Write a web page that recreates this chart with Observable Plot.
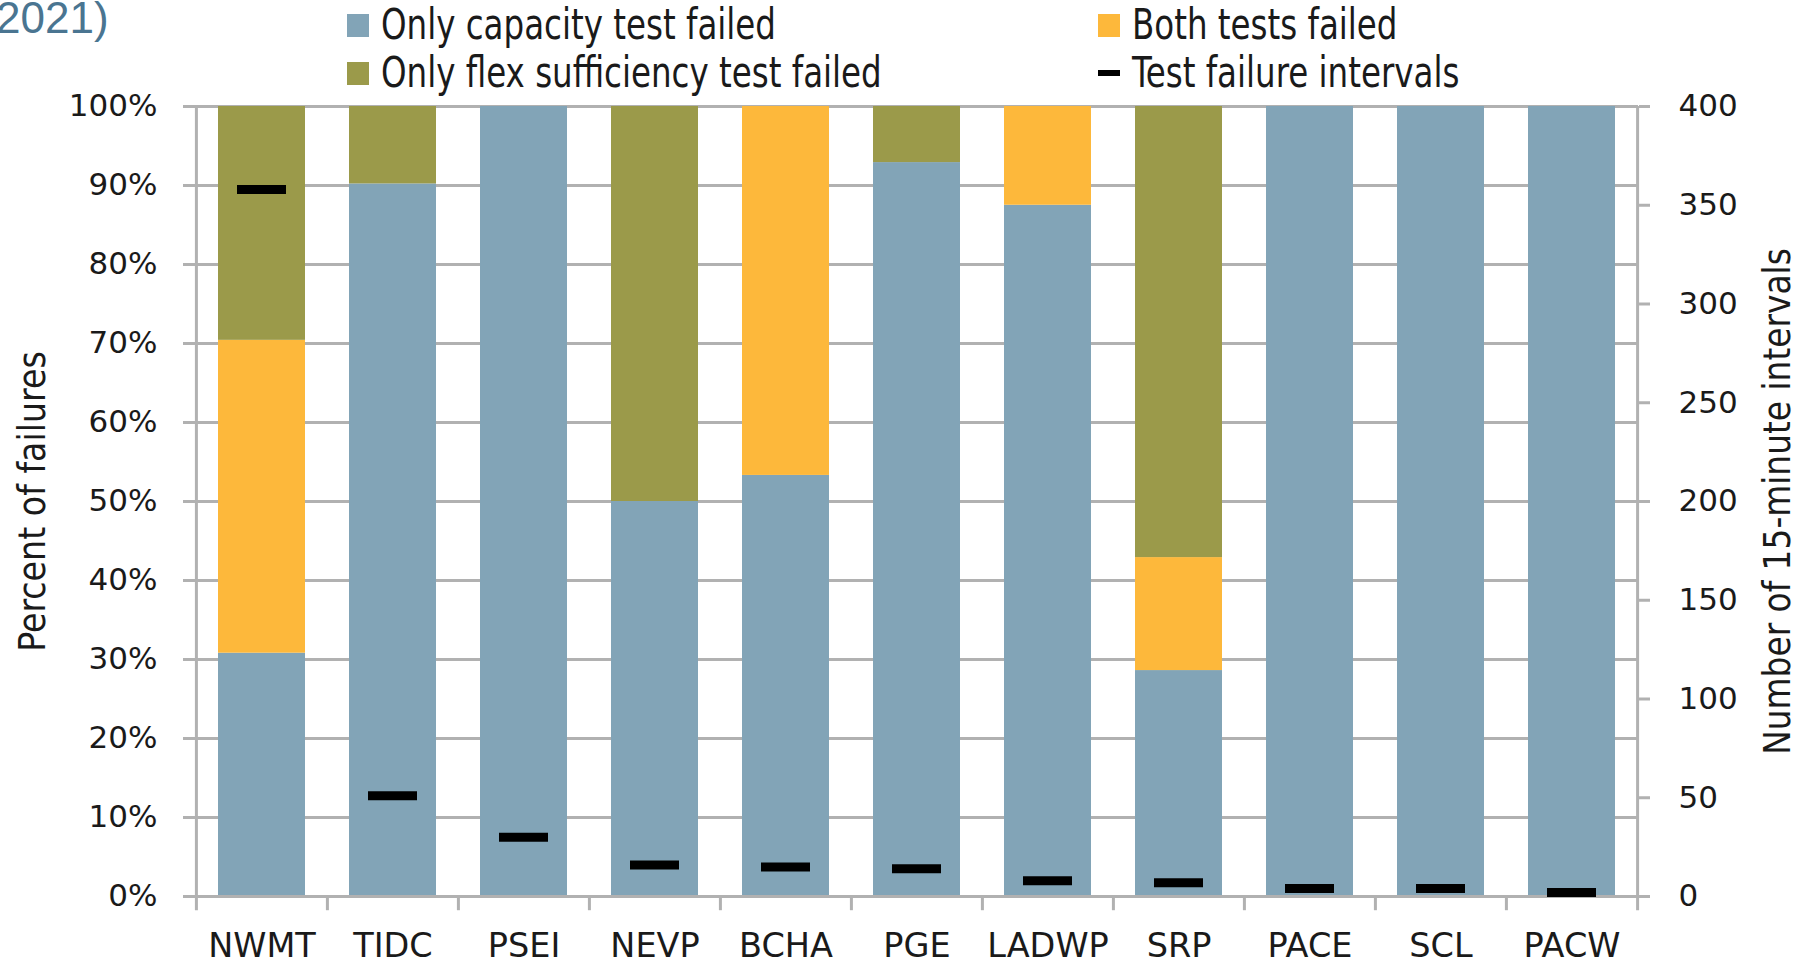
<!DOCTYPE html>
<html>
<head>
<meta charset="utf-8">
<script src="https://cdn.jsdelivr.net/npm/d3@7"></script>
<script src="https://cdn.jsdelivr.net/npm/@observablehq/plot@0.6"></script>
<style>
  html, body { margin: 0; padding: 0; background: #fff; }
  #wrap { position: relative; width: 1798px; height: 966px; overflow: hidden; }
  #wrap svg { position: absolute; left: 0; top: 0; }
  .title { position: absolute; left: -4px; top: -7px; font-family: "Liberation Sans", Arial, sans-serif; font-size: 44px; color: #4a7591; white-space: nowrap; }
  .leg { position: absolute; font-family: "Liberation Sans Narrow", "DejaVu Sans Condensed", sans-serif; font-size: 42px; color: #1a1a1a; white-space: nowrap; line-height: 1; display: flex; align-items: center; }
  .leg .txt { display: inline-block; transform: scaleX(0.86); transform-origin: left center; }
  .sw { width: 22px; height: 23px; margin-right: 12px; display: inline-block; }
  .dash { width: 22px; height: 6px; margin-right: 12px; display: inline-block; background: #000; }
</style>
</head>
<body>
<div id="wrap"></div>
<script>
// ---- data ----
const categories = ["NWMT", "TIDC", "PSEI", "NEVP", "BCHA", "PGE", "LADWP", "SRP", "PACE", "SCL", "PACW"];
const seriesNames = ["Only capacity test failed", "Both tests failed", "Only flex sufficiency test failed"];
const capacityOnly = [30.8, 90.2, 100, 50, 53.3, 92.9, 87.5, 28.6, 100, 100, 100];
const bothFailed   = [39.6, 0, 0, 0, 46.7, 0, 12.5, 14.3, 0, 0, 0];
const flexOnly     = [29.6, 9.8, 0, 50, 0, 7.1, 0, 57.1, 0, 0, 0];
const failureIntervals = [358, 51, 30, 16, 15, 14, 8, 7, 4, 4, 2];
const seriesColors = ["#82a4b7", "#fdb83b", "#9b9a4a"];
const percentTicks = [0, 10, 20, 30, 40, 50, 60, 70, 80, 90, 100];
const intervalTicks = [0, 50, 100, 150, 200, 250, 300, 350, 400];
const intervalMax = 400;

// ---- layout ----
const W = 1798, H = 966;
const mL = 195, mR = 160, mT = 106, mB = 70;
const step = (W - mL - mR) / categories.length;
const pad = 0.337;
const gray = "#b1b1b1";
const narrowFont = "'Liberation Sans Narrow', 'DejaVu Sans Condensed', sans-serif";

const table = [];
categories.forEach((c, i) => {
  [capacityOnly, bothFailed, flexOnly].forEach((arr, s) => {
    table.push({cat: c, series: seriesNames[s], value: arr[i]});
  });
});
const markers = categories.map((c, i) => ({cat: c, v: failureIntervals[i] / intervalMax * 100}));
const tickBelow = -1.8;

const chart = Plot.plot({
  width: W, height: H,
  marginLeft: mL, marginRight: mR, marginTop: mT, marginBottom: mB,
  style: {fontFamily: "'DejaVu Sans', sans-serif", fontSize: "31px", color: "#1a1a1a", background: "transparent", overflow: "visible"},
  x: {type: "band", domain: categories, paddingInner: pad, paddingOuter: pad / 2, axis: null},
  y: {domain: [0, 100], axis: null},
  color: {domain: seriesNames, range: seriesColors},
  marks: [
    Plot.ruleY(percentTicks.slice(1), {stroke: gray, strokeWidth: 3}),
    Plot.barY(table, {x: "cat", y: "value", fill: "series", order: seriesNames}),
    Plot.ruleY([0], {stroke: gray, strokeWidth: 3}),
    Plot.ruleX([categories[0]], {x: d => d, dx: -step / 2, y1: tickBelow, y2: 100, stroke: gray, strokeWidth: 3}),
    Plot.ruleX([categories[categories.length - 1]], {x: d => d, dx: step / 2, y1: tickBelow, y2: 100, stroke: gray, strokeWidth: 3}),
    Plot.ruleX(categories.slice(1), {x: d => d, dx: -step / 2, y1: tickBelow, y2: 0, stroke: gray, strokeWidth: 3}),
    Plot.axisY(percentTicks, {anchor: "left", tickSize: 12, tickPadding: 26, stroke: gray, strokeWidth: 3, tickFormat: d => d + "%", label: null}),
    Plot.axisY(intervalTicks.map(v => v / intervalMax * 100), {anchor: "right", tickSize: 11, tickPadding: 29, stroke: gray, strokeWidth: 3, tickFormat: d => String(Math.round(d * intervalMax / 100)), label: null}),
    Plot.axisY([], {anchor: "left", label: "Percent of failures", labelAnchor: "center", labelArrow: false, labelOffset: 177, fontFamily: narrowFont, fontSize: 37}),
    Plot.axisY([], {anchor: "right", label: "Number of 15-minute intervals", labelAnchor: "center", labelArrow: false, labelOffset: 151, fontFamily: narrowFont, fontSize: 36.5}),
    Plot.axisX(categories, {anchor: "bottom", tickSize: 0, tickPadding: 37, fontSize: 33.5, label: null}),
    Plot.tickY(markers, {x: "cat", y: "v", stroke: "#000", strokeWidth: 9, insetLeft: 19, insetRight: 19})
  ]
});

const wrap = document.getElementById("wrap");
wrap.appendChild(chart);

// title fragment
const t = document.createElement("div");
t.className = "title";
t.textContent = "2021)";
wrap.appendChild(t);

// legend
const legendItems = [
  {label: seriesNames[0], color: seriesColors[0], x: 347, y: 25},
  {label: seriesNames[2], color: seriesColors[2], x: 347, y: 73},
  {label: seriesNames[1], color: seriesColors[1], x: 1098, y: 25},
  {label: "Test failure intervals", color: null, x: 1098, y: 73}
];
legendItems.forEach(it => {
  const d = document.createElement("div");
  d.className = "leg";
  d.style.left = it.x + "px";
  d.style.top = (it.y - 22) + "px";
  d.style.height = "44px";
  const s = document.createElement("span");
  if (it.color) { s.className = "sw"; s.style.background = it.color; } else { s.className = "dash"; }
  d.appendChild(s);
  const txt = document.createElement("span");
  txt.className = "txt";
  txt.textContent = it.label;
  d.appendChild(txt);
  wrap.appendChild(d);
});
</script>
</body>
</html>
